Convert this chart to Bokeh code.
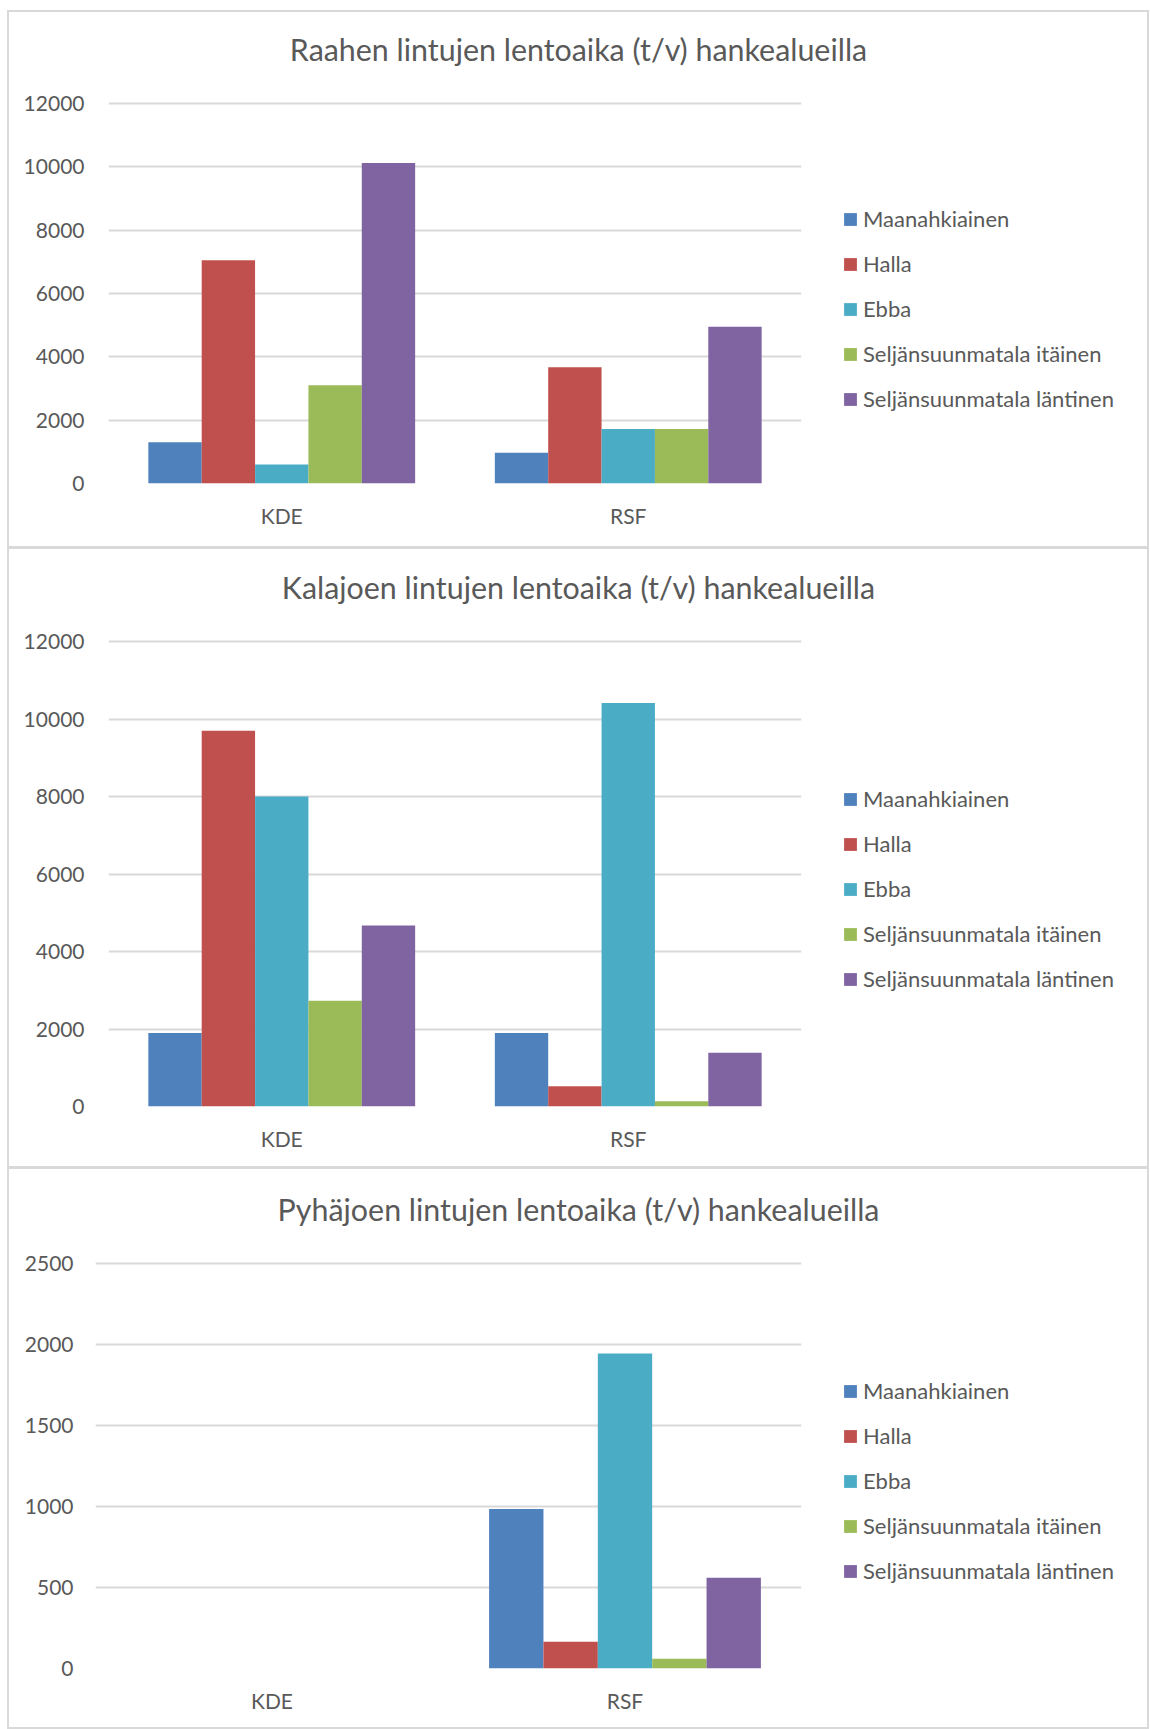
from bokeh.plotting import figure
from bokeh.layouts import column, row
from bokeh.models import FactorRange, Range1d, FixedTicker, Legend, LegendItem, Label, ColumnDataSource
from bokeh.transform import dodge
from bokeh.embed import file_html
from bokeh.resources import INLINE

# ---------------- data ----------------
sites = ["KDE", "RSF"]
series = ["Maanahkiainen", "Halla", "Ebba", "Seljänsuunmatala itäinen", "Seljänsuunmatala läntinen"]
colors = ["#4F81BD", "#C0504D", "#4BACC6", "#9BBB59", "#8064A2"]

raahe_title = "Raahen lintujen lentoaika (t/v) hankealueilla"
raahe_maanahkiainen = [1300, 970]
raahe_halla = [7050, 3670]
raahe_ebba = [600, 1720]
raahe_itainen = [3100, 1720]
raahe_lantinen = [10120, 4950]
raahe_ticks = [0, 2000, 4000, 6000, 8000, 10000, 12000]

kalajoki_title = "Kalajoen lintujen lentoaika (t/v) hankealueilla"
kalajoki_maanahkiainen = [1900, 1900]
kalajoki_halla = [9700, 520]
kalajoki_ebba = [8000, 10410]
kalajoki_itainen = [2730, 135]
kalajoki_lantinen = [4670, 1390]
kalajoki_ticks = [0, 2000, 4000, 6000, 8000, 10000, 12000]

pyhajoki_title = "Pyhäjoen lintujen lentoaika (t/v) hankealueilla"
pyhajoki_maanahkiainen = [0, 985]
pyhajoki_halla = [0, 165]
pyhajoki_ebba = [0, 1945]
pyhajoki_itainen = [0, 60]
pyhajoki_lantinen = [0, 560]
pyhajoki_ticks = [0, 500, 1000, 1500, 2000, 2500]

FONT = "Lato"
TXT = "#595959"
GRID = "#D9D9D9"
W = 1138          # inner width of each panel
CHART_W = 821     # width of the chart part
LEG_W = W - CHART_W
TITLE_H = 70
BAR_W = 0.154
PAD = 2           # pixels above top gridline so it is not clipped


def style_blank(f):
    f.grid.visible = False
    f.outline_line_color = None
    f.background_fill_color = "white"
    f.border_fill_color = "white"


def make_panel(title, values, ticks, height, mb_top, mb_bottom, mb_left, frame_w,
               ylab_standoff, title_y, legend_bottom):
    # ---- title strip ----
    tf = figure(width=W, height=TITLE_H, x_range=Range1d(0, 1), y_range=Range1d(0, 1),
                x_axis_location=None, y_axis_location=None, min_border=0,
                toolbar_location=None, output_backend="svg")
    style_blank(tf)
    tf.add_layout(Label(x=569, y=title_y, x_units="screen", y_units="screen", text=title,
                        text_align="center", text_baseline="middle",
                        text_font=FONT, text_font_size="30.4px", text_color=TXT))

    # ---- chart ----
    ch = height - TITLE_H
    mb_right = CHART_W - mb_left - frame_w
    frame_h = ch - mb_top - mb_bottom
    data = {"site": sites}
    for i, v in enumerate(values):
        data["s%d" % i] = v
    src = ColumnDataSource(data)
    xr = FactorRange(*sites)
    y_end = ticks[-1] * frame_h / (frame_h - PAD)
    p = figure(x_range=xr, y_range=Range1d(ticks[0], y_end),
               width=CHART_W, height=ch, output_backend="svg", toolbar_location=None,
               min_border_left=mb_left, min_border_right=mb_right,
               min_border_top=mb_top, min_border_bottom=mb_bottom,
               outline_line_color=None, background_fill_color="white",
               border_fill_color="white")
    for i, name in enumerate(series):
        p.vbar(x=dodge("site", (i - 2) * BAR_W, range=xr), top="s%d" % i,
               width=BAR_W, source=src, fill_color=colors[i], line_color=None)
    p.xgrid.visible = False
    p.ygrid.ticker = FixedTicker(ticks=ticks)
    p.ygrid.grid_line_color = GRID
    p.ygrid.grid_line_width = 2
    for ax in (p.xaxis, p.yaxis):
        ax.axis_line_color = None
        ax.major_tick_line_color = None
        ax.minor_tick_line_color = None
        ax.major_label_text_font = FONT
        ax.major_label_text_font_size = "21px"
        ax.major_label_text_color = TXT
    p.yaxis.ticker = FixedTicker(ticks=ticks)
    p.yaxis.major_label_standoff = ylab_standoff
    p.xaxis.major_label_standoff = 13

    # ---- legend strip (zero-width proxy bars, only their colours are used) ----
    lf = figure(width=LEG_W, height=ch, x_range=xr, y_range=Range1d(-2, -1),
                x_axis_location=None, y_axis_location=None, min_border=0,
                toolbar_location=None, output_backend="svg")
    style_blank(lf)
    items = []
    for i, name in enumerate(series):
        r = lf.vbar(x="site", top="s%d" % i, width=0, source=src,
                    fill_color=colors[i], line_color=None)
        items.append(LegendItem(label=name, renderers=[r]))
    lf.add_layout(Legend(items=items, location=(12, legend_bottom),
                         padding=0, margin=0, spacing=18, label_height=16,
                         glyph_width=16, glyph_height=16, label_standoff=5,
                         border_line_color=None, background_fill_alpha=0,
                         label_text_font=FONT, label_text_font_size="22px",
                         label_text_color=TXT))
    return column(tf, row(p, lf, spacing=0, styles={"background-color": "white"}),
                  spacing=0, styles={"background-color": "white"})


p1 = make_panel(raahe_title,
                [raahe_maanahkiainen, raahe_halla, raahe_ebba, raahe_itainen, raahe_lantinen],
                raahe_ticks, height=534, mb_top=19, mb_bottom=63, mb_left=99, frame_w=693,
                ylab_standoff=18, title_y=34, legend_bottom=71)
p2 = make_panel(kalajoki_title,
                [kalajoki_maanahkiainen, kalajoki_halla, kalajoki_ebba, kalajoki_itainen, kalajoki_lantinen],
                kalajoki_ticks, height=617, mb_top=20, mb_bottom=60, mb_left=99, frame_w=693,
                ylab_standoff=18, title_y=33, legend_bottom=114)
p3 = make_panel(pyhajoki_title,
                [pyhajoki_maanahkiainen, pyhajoki_halla, pyhajoki_ebba, pyhajoki_itainen, pyhajoki_lantinen],
                pyhajoki_ticks, height=558, mb_top=22, mb_bottom=59, mb_left=86, frame_w=706,
                ylab_standoff=16, title_y=31, legend_bottom=84)

page = column(p1, p2, p3, spacing=3,
              styles={"background-color": "#D9D9D9", "padding": "2px", "margin": "10px 0 0 7px"})
open("out.html", "w").write(file_html(page, INLINE))
